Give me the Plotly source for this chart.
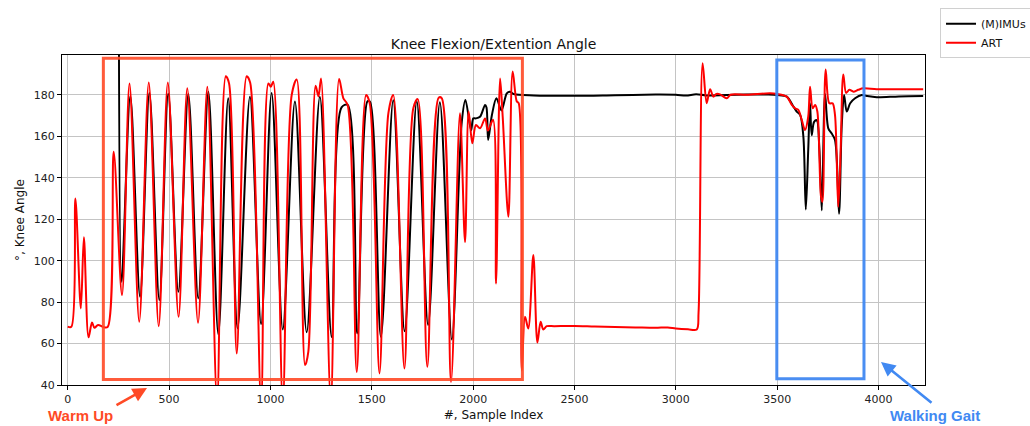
import plotly.graph_objects as go

# ---------------- data ----------------
imu_x = [252, 266, 309, 357, 403, 452, 496, 546, 595, 644, 694, 743, 792, 838,
         899, 954, 1006, 1061, 1121, 1179, 1244, 1302, 1351, 1381, 1428, 1479,
         1491, 1545, 1606, 1662, 1722, 1778, 1836, 1895, 1944, 1962, 1990, 2001,
         2014, 2034, 2059, 2066, 2074, 2092, 2115, 2140, 2166, 2182, 2200, 2300,
         2500, 2700, 2900, 3000, 3050, 3100, 3150, 3250, 3350, 3450, 3500, 3547,
         3580, 3596, 3613, 3629, 3641, 3653, 3662, 3670, 3682, 3695, 3708, 3720,
         3736, 3752, 3768, 3785, 3805, 3818, 3830, 3843, 3860, 3884, 3917, 3942,
         3991, 4100, 4220]
imu_y = [250, 89.8, 179.5, 82.6, 181, 81, 180.6, 85, 180.5, 81.8, 181.5, 64.5,
         178.4, 67.3, 179.2, 69.5, 181, 66.8, 176.8, 65.5, 179.2, 63.2, 174,
         175.2, 64.9, 177, 176.8, 63.3, 177.5, 66, 177, 69, 176.5, 62, 167, 177.6,
         163, 168.7, 168.7, 169.5, 175.2, 174, 158.3, 170, 178.4, 172.5, 180.8,
         181.6, 180.5, 179.8, 179.6, 179.9, 180.2, 180.1, 179.7, 180.3, 179.8,
         180, 180.2, 180.2, 180, 179.2, 174.4, 172, 170.4, 159.9, 124.7, 153.6,
         176, 160.6, 167, 167.8, 153.6, 124.3, 180.5, 163.9, 161.5, 158.3, 122.7,
         164.7, 180, 172, 176, 178.4, 180, 179.5, 178.9, 179.3, 179.5]

art_x = [0, 18, 38, 65, 80, 103, 120, 132, 150, 175, 197, 227, 268, 305, 353,
         400, 449, 494, 547, 590, 643, 689, 737, 780, 796, 834, 883, 900, 954,
         990, 1002, 1014, 1061, 1105, 1130, 1171, 1187, 1223, 1237, 1250, 1298,
         1339, 1360, 1381, 1426, 1472, 1490, 1538, 1582, 1606, 1661, 1705, 1727,
         1774, 1830, 1845, 1891, 1935, 1960, 1978, 1996, 2014, 2034, 2059, 2073,
         2098, 2113, 2133, 2146, 2174, 2195, 2215, 2225, 2240, 2256, 2272, 2297,
         2317, 2333, 2346, 2363, 2400, 2500, 2600, 2700, 2800, 2900, 2960, 3000,
         3060, 3103, 3112, 3132, 3152, 3169, 3185, 3200, 3218, 3251, 3270, 3350,
         3464, 3500, 3547, 3572, 3588, 3604, 3621, 3637, 3653, 3662, 3675, 3687,
         3698, 3716, 3723, 3739, 3757, 3773, 3785, 3801, 3813, 3826, 3840, 3856,
         3876, 3900, 3925, 3991, 4100, 4220]
art_y = [68.2, 68.1, 130, 77, 111.3, 63, 70.2, 67.6, 69, 68, 68, 152.6, 83.4,
         185.6, 70.5, 186, 68.4, 186, 72.9, 183.2, 70, 184, 32, 189, 185.6, 55.2,
         189, 186, 32, 185.6, 184, 186.4, 32, 180, 187.5, 49.6, 56, 184.5, 179.3,
         188, 32, 187.7, 178.4, 175.2, 46.3, 180, 176, 45.6, 171.2, 180, 48,
         173.6, 178, 48.8, 178.7, 178.5, 41.5, 171.2, 109, 172, 156.7, 165.5,
         163.9, 168.7, 162.8, 168, 89, 188, 169.4, 121.2, 191.3, 177, 176, 47,
         72.9, 67.3, 102.7, 60.5, 70.5, 66.8, 68.4, 68.4, 68.5, 68.2, 68.0, 67.8,
         67.6, 67.8, 67.3, 66.9, 66.8, 75, 195.3, 176, 182.8, 179.2, 180.5, 180.3,
         178.4, 180.1, 180.1, 180.8, 180.5, 179.2, 175.2, 173.6, 172.8, 168,
         163.1, 169.5, 184, 173.6, 175.2, 172, 131, 128.5, 192.3, 176, 176, 170.4,
         126, 153.7, 189.9, 181, 182.5, 181.6, 182.5, 183.2, 182.8, 182.8, 182.8]

x_ticks = [0, 500, 1000, 1500, 2000, 2500, 3000, 3500, 4000]
y_ticks = [40, 60, 80, 100, 120, 140, 160, 180]

warmup_box = [176, 2243, 42.7, 197.7]     # x0, x1, y0, y1
walking_box = [3498, 3928, 43, 196.9]

ORANGE = "#FF4A26"
BLUE = "#4189F2"

fig = go.Figure()
fig.add_trace(go.Scatter(x=imu_x, y=imu_y, mode="lines", name="(M)IMUs",
                         line=dict(color="black", width=2, shape="spline", smoothing=0.9)))
fig.add_trace(go.Scatter(x=art_x, y=art_y, mode="lines", name="ART",
                         line=dict(color="red", width=2, shape="spline", smoothing=0.9)))

fig.add_shape(type="rect", x0=warmup_box[0], x1=warmup_box[1], y0=warmup_box[2], y1=warmup_box[3],
              xref="x", yref="y", line=dict(color=ORANGE, width=3), opacity=0.9, layer="above")
fig.add_shape(type="rect", x0=walking_box[0], x1=walking_box[1], y0=walking_box[2], y1=walking_box[3],
              xref="x", yref="y", line=dict(color=BLUE, width=3), opacity=0.95, layer="above")

font_fam = "DejaVu Sans"
PL, PR, PT, PB = 62, 105, 55, 41
W, H = 1030, 426
pw, ph = W - PL - PR, H - PT - PB


def px2paper(px, py):
    return (px - PL) / pw, 1 - (py - PT) / ph


# text labels
tx, ty = px2paper(80, 415)
fig.add_annotation(x=tx, y=ty, xref="paper", yref="paper", text="<b>Warm Up</b>",
                   xanchor="center", yanchor="middle", showarrow=False,
                   font=dict(family="Liberation Sans", size=15, color=ORANGE))
tx, ty = px2paper(935, 415)
fig.add_annotation(x=tx, y=ty, xref="paper", yref="paper", text="<b>Walking Gait</b>",
                   xanchor="center", yanchor="middle", showarrow=False,
                   font=dict(family="Liberation Sans", size=15, color=BLUE))
# arrows
hx, hy = px2paper(147, 388)
fig.add_annotation(x=hx, y=hy, xref="paper", yref="paper", text="", showarrow=True,
                   ax=115 - 147, ay=406 - 388, arrowhead=2, arrowsize=1.1, arrowwidth=2.6,
                   arrowcolor=ORANGE)
hx, hy = px2paper(881, 362)
fig.add_annotation(x=hx, y=hy, xref="paper", yref="paper", text="", showarrow=True,
                   ax=933 - 881, ay=404 - 362, arrowhead=2, arrowsize=1.1, arrowwidth=2.6,
                   arrowcolor=BLUE)

axis_common = dict(showline=True, linecolor="black", linewidth=1, mirror=True,
                   ticks="outside", ticklen=4, tickcolor="black", tickwidth=1,
                   showgrid=True, gridcolor="#c4c4c4", gridwidth=1, zeroline=False,
                   tickfont=dict(family=font_fam, size=11, color="#222222"))

fig.update_layout(
    width=W, height=H,
    margin=dict(l=PL, r=PR, t=PT, b=PB, autoexpand=False),
    paper_bgcolor="white", plot_bgcolor="white",
    title=dict(text="Knee Flexion/Extention Angle", x=0.5, xref="paper", xanchor="center",
               y=(H - 49) / H, yref="container", yanchor="bottom",
               font=dict(family=font_fam, size=14, color="#111111")),
    xaxis=dict(range=[-28, 4229], tickvals=x_ticks,
               title=dict(text="#, Sample Index", standoff=5,
                          font=dict(family=font_fam, size=12, color="#111111")),
               **axis_common),
    yaxis=dict(range=[40, 199.3], tickvals=y_ticks,
               title=dict(text="°, Knee Angle", standoff=6,
                          font=dict(family=font_fam, size=12, color="#111111")),
               **axis_common),
    legend=dict(x=1.0174, y=1.142, xanchor="left", yanchor="top",
                bordercolor="#d0d0d0", borderwidth=1, bgcolor="white",
                font=dict(family=font_fam, size=11, color="#111111"),
                itemwidth=30, tracegroupgap=0),
    showlegend=True,
)

fig.write_html("out.html", config={"displayModeBar": False},
               post_script="document.body.style.margin='0';document.body.style.overflow='hidden';")
